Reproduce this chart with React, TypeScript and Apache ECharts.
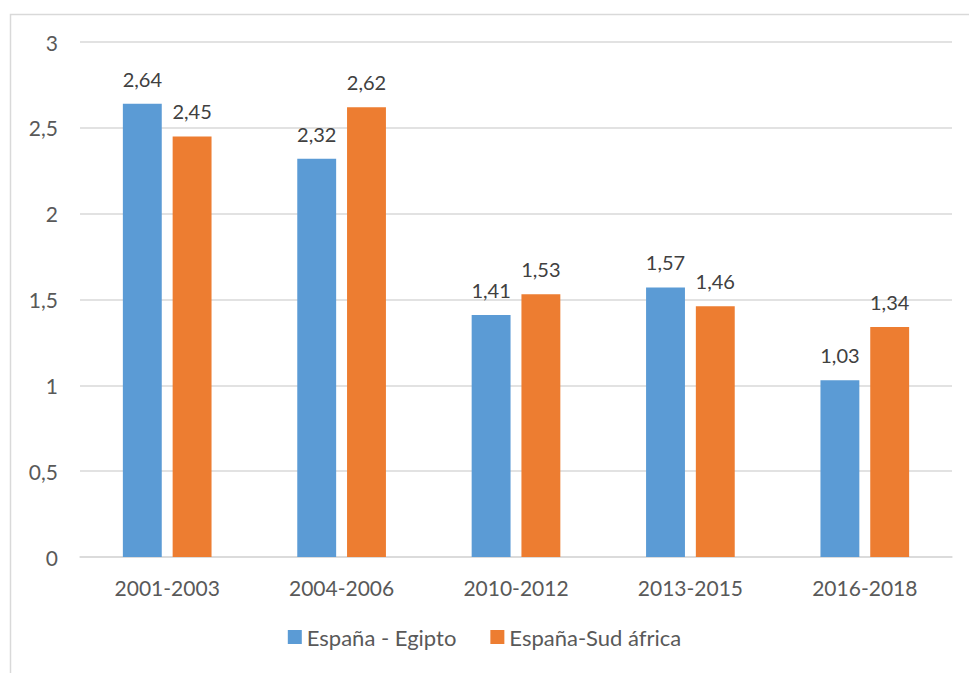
import React, { useEffect, useRef } from "react";
import * as echarts from "echarts";

const categories = ["2001-2003", "2004-2006", "2010-2012", "2013-2015", "2016-2018"];
const seriesNames = ["España - Egipto", "España-Sud áfrica"];
const egipto = [2.64, 2.32, 1.41, 1.57, 1.03];
const sudafrica = [2.45, 2.62, 1.53, 1.46, 1.34];
const colors = ["#5B9BD5", "#ED7D31"];

const fmt = (v: number) => String(v).replace(".", ",");
const FONT = "Lato";

export default function App() {
  const ref = useRef<HTMLDivElement>(null);
  useEffect(() => {
    if (!ref.current) return;
    const chart = echarts.init(ref.current, null, { renderer: "svg" });
    const label = {
      show: true,
      position: "top",
      distance: 15,
      fontFamily: FONT,
      fontSize: 20,
      color: "#404040",
      formatter: (p: any) => fmt(p.value),
    };
    chart.setOption({
      animation: false,
      backgroundColor: "#ffffff",
      textStyle: { fontFamily: FONT },
      graphic: [
        {
          type: "rect",
          shape: { x: 10.5, y: 14.5, width: 1000, height: 700 },
          style: { fill: "none", stroke: "#d9d9d9", lineWidth: 1.5 },
          silent: true,
        },
      ],
      grid: { left: 80, right: 17, top: 42, bottom: 116, containLabel: false },
      legend: {
        data: seriesNames,
        bottom: 20,
        left: "center",
        itemWidth: 14,
        itemHeight: 14,
        itemGap: 34,
        icon: "rect",
        textStyle: { fontFamily: FONT, fontSize: 22, color: "#595959" },
      },
      xAxis: {
        type: "category",
        data: categories,
        axisLine: { lineStyle: { color: "#d9d9d9", width: 1.5 } },
        axisTick: { show: false },
        axisLabel: { fontFamily: FONT, fontSize: 21, color: "#595959", margin: 20 },
      },
      yAxis: {
        type: "value",
        min: 0,
        max: 3,
        interval: 0.5,
        axisLine: { show: false },
        axisTick: { show: false },
        splitLine: { lineStyle: { color: "#d9d9d9", width: 1.5 } },
        axisLabel: {
          fontFamily: FONT,
          fontSize: 21,
          color: "#595959",
          margin: 22,
          formatter: (v: number) => fmt(v),
        },
      },
      series: [
        {
          name: seriesNames[0],
          type: "bar",
          data: egipto,
          itemStyle: { color: colors[0] },
          barWidth: "22.3%",
          barGap: "28%",
          label,
        },
        {
          name: seriesNames[1],
          type: "bar",
          data: sudafrica,
          itemStyle: { color: colors[1] },
          barWidth: "22.3%",
          barGap: "28%",
          label,
        },
      ],
    });
    return () => chart.dispose();
  }, []);
  return (
    <div
      ref={ref}
      style={{ position: "fixed", left: 0, top: 0, width: 969, height: 673, background: "#fff" }}
    />
  );
}
